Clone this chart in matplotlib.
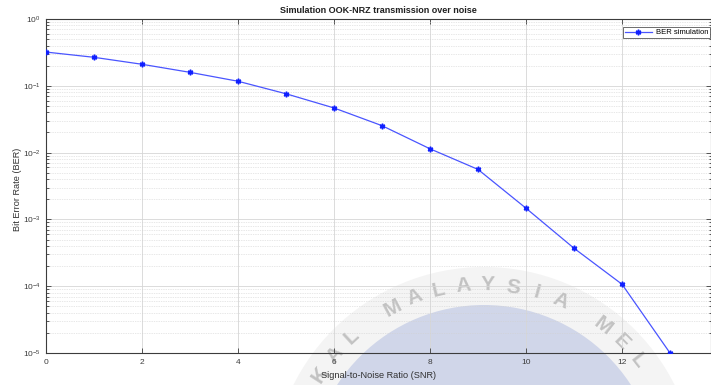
import numpy as np
import matplotlib
matplotlib.use("Agg")
import matplotlib.pyplot as plt
from matplotlib.patches import Circle
from matplotlib.ticker import LogLocator, NullFormatter

plt.rcParams['font.family'] = ['Liberation Sans', 'DejaVu Sans']
plt.rcParams['mathtext.fontset'] = 'custom'
plt.rcParams['mathtext.rm'] = 'Liberation Sans'
plt.rcParams['mathtext.it'] = 'Liberation Sans'
plt.rcParams['mathtext.bf'] = 'Liberation Sans:bold'

# BER simulation results versus SNR
snr = [0, 1, 2, 3, 4, 5, 6, 7, 8, 9, 10, 11, 12, 13]
ber = [0.32, 0.267, 0.21, 0.159, 0.117, 0.076, 0.0466, 0.0253,
       0.0114, 0.0056, 0.00147, 0.00037, 0.000107, 1e-5]
x_ticks = [0, 2, 4, 6, 8, 10, 12]

title = "Simulation OOK-NRZ transmission over noise"
xlabel = "Signal-to-Noise Ratio (SNR)"
ylabel = "Bit Error Rate (BER)"
series_name = "BER simulation"

W, H = 711, 385
fig = plt.figure(figsize=(W / 100, H / 100), dpi=100)
fig.patch.set_facecolor('white')

# --- university seal in the background (pixel coords, y from top) ---
def px(x, y):
    return x / 100, (H - y) / 100

cx, cy = 484, 480
fig.patches.append(Circle(px(cx, cy), 2.13, transform=fig.dpi_scale_trans,
                          facecolor='#f4f4f4', edgecolor='none', zorder=-3))
fig.patches.append(Circle(px(cx, cy), 1.75, transform=fig.dpi_scale_trans,
                          facecolor='#d0d6e9', edgecolor='none', zorder=-2))
seal_text = "KAL MALAYSIA MEL"
start_angle, step = -57.2, 7.3
r_txt = 195
for i, ch in enumerate(seal_text):
    if ch == ' ':
        continue
    a = np.deg2rad(start_angle + step * i)
    tx = cx + r_txt * np.sin(a)
    ty = cy - r_txt * np.cos(a)
    fig.text(*px(tx, ty), ch, transform=fig.dpi_scale_trans, ha='center',
             va='center', rotation=-np.rad2deg(a), rotation_mode='anchor',
             fontsize=15, fontweight='bold', color='#c2c2c2', zorder=-1)

# --- axes ---
left, bottom, top = 46, 353, 19
ax = fig.add_axes([left / W, (H - bottom) / H, 1 - left / W, (bottom - top) / H])
ax.set_facecolor('none')

ax.semilogy(snr, ber, '-', color='#4a55ff', lw=0.9, marker=(6, 2, 0),
            markersize=4, markeredgewidth=1.1, markerfacecolor='#1020ff',
            markeredgecolor='#1020ff', label=series_name, zorder=3)

ax.set_xlim(0, (W - left) / 48)
ax.set_ylim(1e-5, 1)
ax.set_xticks(x_ticks)
ax.yaxis.set_major_locator(LogLocator(base=10, numticks=10))
ax.yaxis.set_minor_locator(LogLocator(base=10, subs=np.arange(2, 10), numticks=20))
ax.yaxis.set_minor_formatter(NullFormatter())

axis_col = '#3c3c3c'
for s in ax.spines.values():
    s.set_color(axis_col)
    s.set_linewidth(0.8)
ax.tick_params(which='both', direction='in', top=True, right=True,
               colors=axis_col, labelsize=6, width=0.6)
ax.tick_params(which='major', length=3.5, pad=4)
ax.tick_params(which='minor', length=1.8)

ax.grid(True, which='major', color='#d6d6d6', lw=0.6, ls='-')
ax.grid(True, which='minor', axis='y', color='#d0d0d0', lw=0.5, ls=(0, (1, 1.5)))
ax.set_axisbelow(True)

ax.set_title(title, fontsize=6.5, fontweight='bold', color='#202020', pad=4)
ax.set_xlabel(xlabel, fontsize=6.6, color='#303030', labelpad=4)
ax.set_ylabel(ylabel, fontsize=6.6, color='#303030')
ax.yaxis.set_label_coords(-0.036, 0.49)

leg = ax.legend(loc='upper right', bbox_to_anchor=(0.9985, 0.976), fontsize=5.5,
                frameon=True, fancybox=False, framealpha=1, edgecolor='#555555',
                handlelength=3.5, borderpad=0.25, handletextpad=0.5,
                borderaxespad=0)
leg.get_frame().set_linewidth(0.6)

fig.savefig("out.png", dpi=100)
